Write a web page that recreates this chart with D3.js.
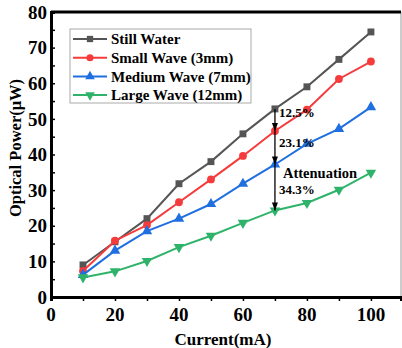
<!DOCTYPE html>
<html>
<head>
<meta charset="utf-8">
<script src="https://cdn.jsdelivr.net/npm/d3@7"></script>
<style>
  body { margin: 0; background: #fff; }
  text { font-family: "Liberation Serif", "Times New Roman", serif; font-weight: bold; }
</style>
</head>
<body>
<svg id="chart"></svg>
<script>
(function(){
    "use strict";

    const current = [10, 20, 30, 40, 50, 60, 70, 80, 90, 100];
    const stillWater = [9.0, 15.5, 22.0, 31.8, 38.0, 45.8, 52.8, 59.0, 66.7, 74.4];
    const smallWave = [7.3, 15.8, 20.2, 26.6, 33.0, 39.6, 46.6, 52.6, 61.2, 66.1];
    const mediumWave = [6.2, 13.0, 18.5, 22.0, 26.1, 31.8, 37.2, 43.0, 47.2, 53.3];
    const largeWave = [5.5, 7.2, 10.1, 14.0, 17.2, 20.8, 24.3, 26.4, 30.1, 34.9];
    const seriesNames = ["Still Water", "Small Wave (3mm)", "Medium Wave (7mm)", "Large Wave (12mm)"];
    const xTicks = [0, 20, 40, 60, 80, 100];
    const yTicks = [0, 10, 20, 30, 40, 50, 60, 70, 80];
    const attenuation = ["12.5%", "23.1%", "34.3%"];

    const width = 402,
        height = 348;

    const colors = ["#555555", "#f53b3b", "#1f6fe0", "#2fb36a"];
    const symbols = [d3.symbolSquare, d3.symbolCircle, d3.symbolTriangle, d3.symbolTriangle];

    const series = [stillWater, smallWave, mediumWave, largeWave].map((vals, i) => ({
        name: seriesNames[i],
        color: colors[i],
        symbol: symbols[i],
        flip: i === 3,
        points: current.map((c, j) => ({x: c, y: vals[j]}))
    }));

    const x = d3.scaleLinear().domain([0, 109.4]).range([51, 401]);
    const y = d3.scaleLinear().domain([0, 80]).range([297, 12]);

    const svg = d3.select("svg#chart")
        .attr("width", width)
        .attr("height", height);

    // frame: thin right edge, thick top
    svg.append("line")
        .attr("x1", x.range()[1]).attr("x2", x.range()[1])
        .attr("y1", y.range()[1]).attr("y2", y.range()[0])
        .attr("stroke", "#999").attr("stroke-width", 1);
    svg.append("line")
        .attr("x1", x.range()[0]).attr("x2", x.range()[1])
        .attr("y1", y.range()[1]).attr("y2", y.range()[1])
        .attr("stroke", "#000").attr("stroke-width", 3);

    // bottom axis
    const xAxis = svg.append("g")
        .attr("transform", `translate(0, ${y.range()[0]})`)
        .call(d3.axisBottom(x).tickValues(d3.range(0, 101, 10)).tickSize(4).tickFormat(""));
    xAxis.select(".domain").attr("stroke-width", 3);
    xAxis.selectAll(".tick line").attr("stroke-width", 1.5);

    svg.append("g").selectAll("text")
        .data(xTicks)
        .join("text")
        .attr("x", d => x(d))
        .attr("y", 321)
        .attr("text-anchor", "middle")
        .attr("font-size", 19)
        .text(d => d);

    // left axis, ticks inside
    const yAxis = svg.append("g")
        .attr("transform", `translate(${x.range()[0]}, 0)`)
        .call(d3.axisRight(y).tickValues(d3.range(0, 81, 5)).tickSize(4).tickFormat(""));
    yAxis.select(".domain").attr("stroke-width", 3);
    yAxis.selectAll(".tick line").attr("stroke-width", 1.5);

    svg.append("g").selectAll("text")
        .data(yTicks)
        .join("text")
        .attr("x", 47)
        .attr("y", d => y(d))
        .attr("dy", "0.35em")
        .attr("text-anchor", "end")
        .attr("font-size", 19)
        .text(d => d);

    // axis titles
    svg.append("text")
        .attr("x", 223).attr("y", 345)
        .attr("text-anchor", "middle")
        .attr("font-size", 17)
        .text("Current(mA)");
    svg.append("text")
        .attr("transform", "translate(21, 148) rotate(-90)")
        .attr("text-anchor", "middle")
        .attr("font-size", 16.5)
        .text("Optical Power(μW)");

    // series
    const line = d3.line().x(d => x(d.x)).y(d => y(d.y));
    const g = svg.append("g").selectAll("g")
        .data(series)
        .join("g");

    g.append("path")
        .attr("d", d => line(d.points))
        .attr("fill", "none")
        .attr("stroke", d => d.color)
        .attr("stroke-width", 2);

    g.selectAll("path.mark")
        .data(d => d.points.map(p => ({p, s: d})))
        .join("path")
        .attr("class", "mark")
        .attr("d", d => d3.symbol(d.s.symbol, 48)())
        .attr("transform", d => `translate(${x(d.p.x)}, ${y(d.p.y)})${d.s.flip ? " rotate(180)" : ""}`)
        .attr("fill", d => d.s.color);

    // attenuation arrow at 70 mA
    const ai = current.indexOf(70);
    const ax = x(70);
    svg.append("line")
        .attr("x1", ax).attr("x2", ax)
        .attr("y1", y(stillWater[ai])).attr("y2", y(largeWave[ai]))
        .attr("stroke", "#000").attr("stroke-width", 1.3);
    svg.append("g").selectAll("path")
        .data([smallWave[ai], mediumWave[ai], largeWave[ai]])
        .join("path")
        .attr("d", d => `M${ax - 3},${y(d) - 8}L${ax + 3},${y(d) - 8}L${ax},${y(d)}Z`)
        .attr("fill", "#000");

    svg.append("text").attr("x", ax + 4).attr("y", 117)
        .attr("font-size", 13).text(attenuation[0]);
    svg.append("text").attr("x", ax + 4).attr("y", 147)
        .attr("font-size", 13).text(attenuation[1]);
    svg.append("text").attr("x", ax + 8).attr("y", 178)
        .attr("font-size", 14.5).text("Attenuation");
    svg.append("text").attr("x", ax + 4).attr("y", 194)
        .attr("font-size", 13).text(attenuation[2]);

    // legend
    const legend = svg.append("g").attr("transform", "translate(70, 29)");
    legend.append("rect")
        .attr("width", 181).attr("height", 74)
        .attr("fill", "#fff").attr("stroke", "#aaa").attr("stroke-width", 1);
    const item = legend.selectAll("g.item")
        .data(series)
        .join("g")
        .attr("class", "item")
        .attr("transform", (d, i) => `translate(0, ${10 + i * 18.7})`);
    item.append("line")
        .attr("x1", 3).attr("x2", 37)
        .attr("stroke", d => d.color).attr("stroke-width", 2);
    item.append("path")
        .attr("d", d => d3.symbol(d.symbol, 40)())
        .attr("transform", d => `translate(20, 0)${d.flip ? " rotate(180)" : ""}`)
        .attr("fill", d => d.color);
    item.append("text")
        .attr("x", 41)
        .attr("dy", "0.35em")
        .attr("font-size", 15)
        .text(d => d.name);
})();
</script>
</body>
</html>
